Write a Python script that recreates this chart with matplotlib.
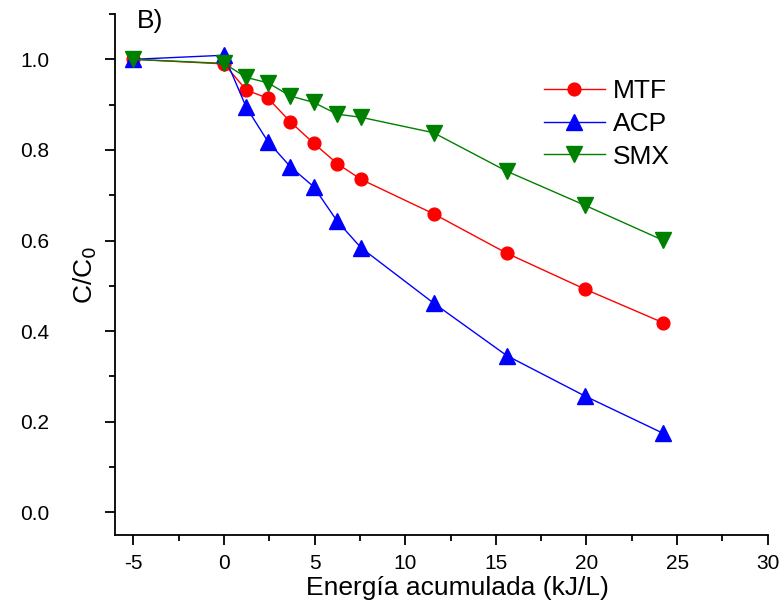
import matplotlib

matplotlib.use("Agg")
import matplotlib.pyplot as plt
from matplotlib.ticker import FormatStrFormatter, MultipleLocator

plt.rcParams["font.family"] = ["Liberation Sans", "DejaVu Sans"]
plt.rcParams["axes.unicode_minus"] = False

energy = [-5, 0, 1.23, 2.43, 3.66, 4.94, 6.24, 7.56, 11.56, 15.6, 19.9, 24.2]
mtf = [1.0, 0.99, 0.932, 0.914, 0.862, 0.815, 0.770, 0.735, 0.659, 0.572, 0.493, 0.419]
acp = [1.0, 1.009, 0.894, 0.818, 0.763, 0.719, 0.643, 0.584, 0.462, 0.346, 0.257, 0.175]
smx = [1.0, 0.991, 0.960, 0.948, 0.919, 0.905, 0.879, 0.872, 0.838, 0.753, 0.678, 0.601]

fig = plt.figure(figsize=(7.81, 6.10), dpi=100)
ax = fig.add_axes([0.1476, 0.123, 0.983 - 0.1476, 0.977 - 0.123])

ax.plot(energy, mtf, "o-", color="#ff0000", lw=1.0, ms=9.2, label="MTF")
ax.plot(energy, acp, "^-", color="#0000ff", lw=1.0, ms=11, label="ACP")
ax.plot(energy, smx, "v-", color="#008000", lw=1.0, ms=11, label="SMX")

ax.set_xlim(-6, 30)
ax.set_ylim(-0.05, 1.1)
ax.xaxis.set_major_locator(MultipleLocator(5))
ax.xaxis.set_minor_locator(MultipleLocator(2.5))
ax.yaxis.set_major_locator(MultipleLocator(0.2))
ax.yaxis.set_minor_locator(MultipleLocator(0.1))
ax.yaxis.set_major_formatter(FormatStrFormatter("%.1f"))

for side in ("top", "right"):
    ax.spines[side].set_visible(False)
for side in ("left", "bottom"):
    ax.spines[side].set_linewidth(1.3)
ax.tick_params(which="major", direction="out", length=7.5, width=1.3, labelsize=15)
ax.tick_params(axis="x", which="major", pad=6)
ax.tick_params(axis="y", which="major", pad=40)
ax.tick_params(which="minor", direction="out", length=4, width=1.3)

ax.set_xlabel("Energía acumulada (kJ/L)", fontsize=19)
ax.xaxis.set_label_coords(0.524, -0.078)
ax.set_ylabel("C/C$_0$", fontsize=19)
ax.yaxis.set_label_coords(-0.025, 0.5)
ax.text(0.033, 1.01, "B)", transform=ax.transAxes, fontsize=19, va="top", ha="left")

ax.legend(loc="upper left", bbox_to_anchor=(0.657, 0.875), frameon=False, fontsize=19,
          borderpad=0, borderaxespad=0, handlelength=2.3, handletextpad=0.3,
          labelspacing=0.33)

fig.savefig("out.png", dpi=100)
